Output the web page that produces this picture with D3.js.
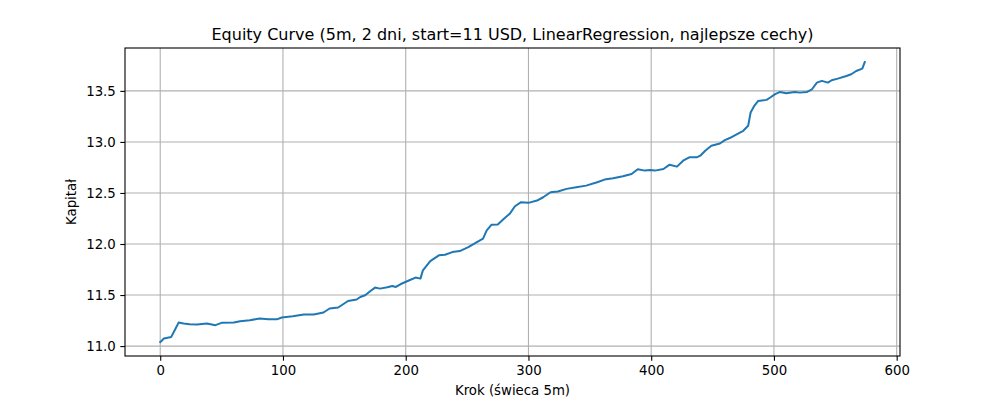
<!DOCTYPE html>
<html>
<head>
<meta charset="utf-8">
<script src="https://cdn.jsdelivr.net/npm/d3@7"></script>
<style>
  body { margin: 0; background: #fff; }
  text { font-family: "DejaVu Sans", sans-serif; fill: #000; }
</style>
</head>
<body>
<svg id="chart" width="1000" height="400"></svg>
<script>
// equity readings (step index -> capital)
var steps = [0, 1, 3, 5, 7, 9, 12, 15, 19, 24, 30, 38, 45, 50, 60, 65, 73, 81, 88, 95,
    99, 108, 117, 125, 133, 138, 145, 153, 160, 163, 167, 171, 175, 179, 185, 189, 192, 196,
    203, 208, 212, 214, 220, 227, 232, 238, 244, 251, 258, 263, 266, 270, 275, 280, 285, 289,
    294, 300, 307, 312, 318, 324, 331, 339, 347, 356, 362, 369, 377, 384, 389, 395, 399, 403,
    410, 415, 421, 426, 431, 437, 440, 444, 449, 456, 460, 464, 470, 475, 479, 481, 484, 487,
    494, 497, 501, 505, 510, 517, 521, 527, 531, 535, 539, 544, 547, 552, 559, 563, 567, 572, 574];
var equity = [11.04, 11.05, 11.075, 11.08, 11.085, 11.09, 11.16, 11.23, 11.222, 11.215, 11.212,
    11.222, 11.205, 11.228, 11.231, 11.244, 11.254, 11.27, 11.264, 11.262,
    11.28, 11.293, 11.31, 11.31, 11.329, 11.368, 11.378, 11.442, 11.456, 11.481, 11.498, 11.537,
    11.573, 11.563, 11.576, 11.589, 11.579, 11.608,
    11.645, 11.671, 11.661, 11.742, 11.833, 11.889, 11.895, 11.921, 11.931, 11.97, 12.019, 12.052,
    12.133, 12.189, 12.191, 12.247, 12.30, 12.37,
    12.41, 12.403, 12.426, 12.458, 12.507, 12.514, 12.54, 12.556, 12.572, 12.605, 12.631, 12.644,
    12.663, 12.686, 12.733, 12.719, 12.725, 12.719,
    12.735, 12.777, 12.758, 12.816, 12.849, 12.849, 12.865, 12.914, 12.963, 12.985, 13.018, 13.038,
    13.077, 13.109, 13.158, 13.288, 13.354, 13.40,
    13.412, 13.435, 13.468, 13.49, 13.477, 13.49, 13.483, 13.49, 13.516, 13.581, 13.598, 13.581,
    13.604, 13.62, 13.646, 13.663, 13.695, 13.718, 13.783];
var xTicks = [0, 100, 200, 300, 400, 500, 600];
var yTicks = [11.0, 11.5, 12.0, 12.5, 13.0, 13.5];

var titleText = "Equity Curve (5m, 2 dni, start=11 USD, LinearRegression, najlepsze cechy)";
var xLabel = "Krok (świeca 5m)";
var yLabel = "Kapitał";

var margin = {top: 48, right: 100, bottom: 44, left: 125};
var width = 1000 - margin.left - margin.right,
    height = 400 - margin.top - margin.bottom;

var svg = d3.select('#chart');
var g = svg.append('g').attr('transform', 'translate(' + margin.left + ',' + margin.top + ')');

// matplotlib style 5% padding
var xMin = d3.min(steps), xMax = d3.max(steps);
var xPad = (xMax - xMin) * 0.05;
var yMin = d3.min(equity), yMax = d3.max(equity);
var yPad = (yMax - yMin) * 0.05;

var x = d3.scaleLinear().domain([xMin - xPad, xMax + xPad]).range([0, width]);
var y = d3.scaleLinear().domain([yMin - yPad, yMax + yPad]).range([height, 0]);

// grid
g.append('g').selectAll('line').data(xTicks).enter().append('line')
    .attr('x1', function(d) { return x(d); }).attr('x2', function(d) { return x(d); })
    .attr('y1', 0).attr('y2', height)
    .attr('stroke', '#b0b0b0').attr('stroke-width', 1.1);
g.append('g').selectAll('line').data(yTicks).enter().append('line')
    .attr('y1', function(d) { return y(d); }).attr('y2', function(d) { return y(d); })
    .attr('x1', 0).attr('x2', width)
    .attr('stroke', '#b0b0b0').attr('stroke-width', 1.1);

// line
var line = d3.line()
    .x(function(d, i) { return x(steps[i]); })
    .y(function(d) { return y(d); });
g.append('path').datum(equity)
    .attr('d', line)
    .attr('fill', 'none')
    .attr('stroke', '#1f77b4')
    .attr('stroke-width', 2)
    .attr('stroke-linejoin', 'round')
    .attr('stroke-linecap', 'square');

// axes
var xAxis = d3.axisBottom(x).tickValues(xTicks).tickSize(4.7).tickPadding(4.5).tickFormat(d3.format('d'));
var yAxis = d3.axisLeft(y).tickValues(yTicks).tickSize(4.7).tickPadding(4.5).tickFormat(d3.format('.1f'));

var gx = g.append('g').attr('transform', 'translate(0,' + height + ')').call(xAxis);
var gy = g.append('g').call(yAxis);
[gx, gy].forEach(function(a) {
    a.select('.domain').remove();
    a.selectAll('line').attr('stroke', '#000').attr('stroke-width', 1.1);
    a.selectAll('text').style('font-family', '"DejaVu Sans", sans-serif').style('font-size', '13.3px').attr('fill', '#000');
});

// frame
g.append('rect').attr('x', 0).attr('y', 0).attr('width', width).attr('height', height)
    .attr('fill', 'none').attr('stroke', '#000').attr('stroke-width', 1.1);

// labels
svg.append('text').attr('x', margin.left + width / 2).attr('y', 40)
    .attr('text-anchor', 'middle').style('font-size', '16px').text(titleText);
svg.append('text').attr('x', margin.left + width / 2).attr('y', 395)
    .attr('text-anchor', 'middle').style('font-size', '13.3px').text(xLabel);
svg.append('text').attr('transform', 'translate(76,' + (margin.top + height / 2) + ') rotate(-90)')
    .attr('text-anchor', 'middle').style('font-size', '13.3px').text(yLabel);
</script>
</body>
</html>
